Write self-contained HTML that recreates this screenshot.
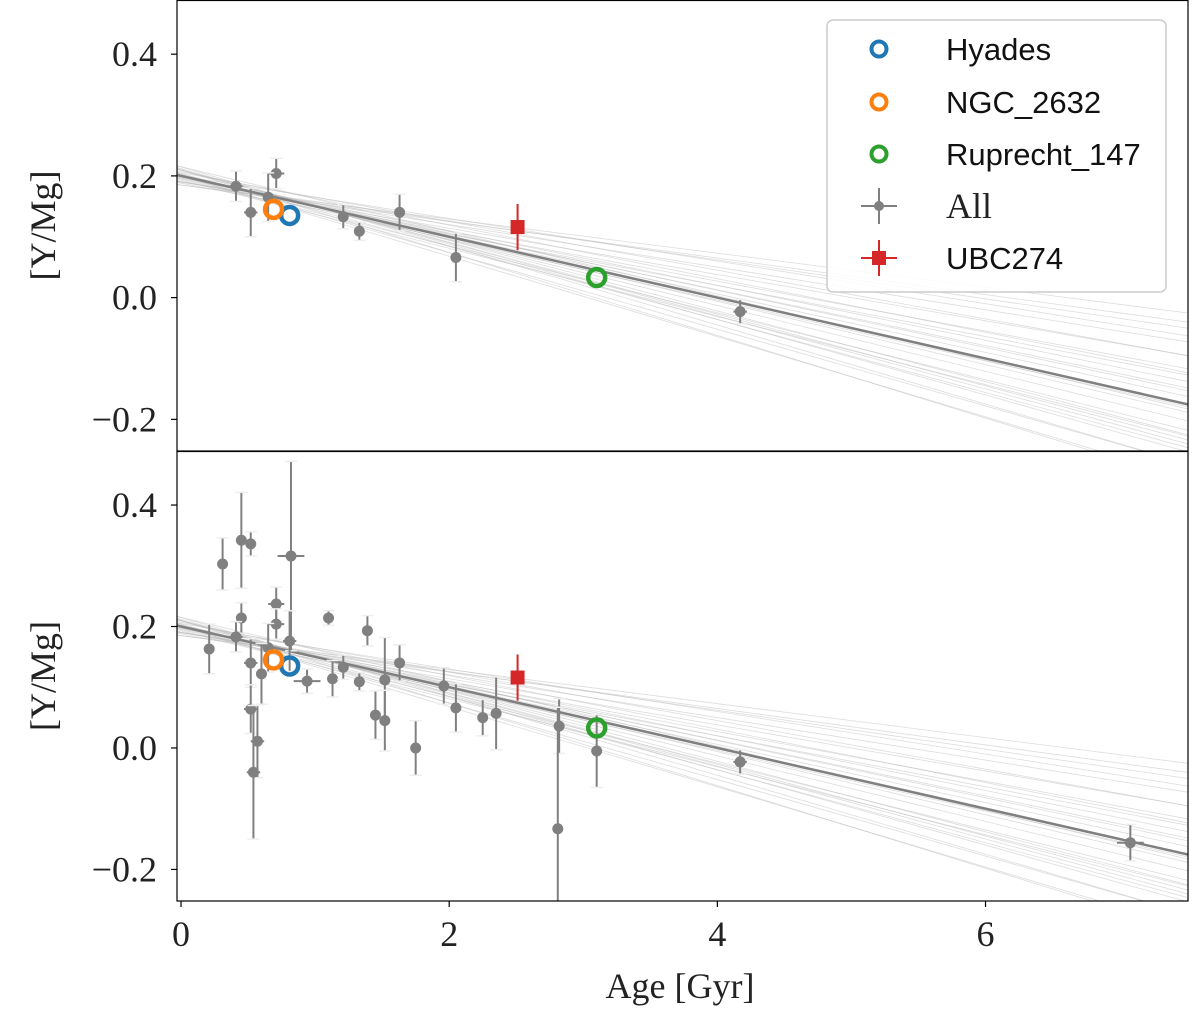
<!DOCTYPE html>
<html><head><meta charset="utf-8"><style>
html,body{margin:0;padding:0;background:#fff;}
svg{display:block;}
.tk{font-family:"Liberation Serif",serif;font-size:36px;fill:#222;}
.lg{font-family:"Liberation Sans",sans-serif;font-size:31px;fill:#111;}
</style></head><body>
<svg id="chart" width="1200" height="1014" viewBox="0 0 1200 1014" xmlns="http://www.w3.org/2000/svg"></svg>
<script>
// ---- data ----
const allAge = [0.21,0.31,0.45,0.52,0.82,0.71,0.45,0.71,0.41,0.81,0.65,1.10,1.39,1.63,0.52,0.60,0.94,1.13,1.21,1.33,1.52,1.45,1.52,1.75,0.52,0.57,0.54,1.96,2.05,2.25,2.35,2.82,2.81,3.10,4.17,7.08];
const allY   = [0.163,0.303,0.342,0.336,0.316,0.237,0.214,0.204,0.183,0.176,0.165,0.214,0.193,0.140,0.140,0.122,0.110,0.114,0.133,0.109,0.112,0.054,0.045,0.000,0.064,0.011,-0.040,0.102,0.066,0.050,0.057,0.036,-0.133,-0.005,-0.023,-0.156];
const allYerr= [0.041,0.043,0.079,0.020,0.156,0.028,0.025,0.025,0.025,0.050,0.040,0.012,0.025,0.030,0.040,0.050,0.020,0.030,0.020,0.015,0.070,0.040,0.050,0.045,0.040,0.060,0.110,0.030,0.040,0.030,0.060,0.045,0.200,0.060,0.020,0.030];
const allXerr= [0.03,0.03,0.03,0.03,0.10,0.06,0.03,0.06,0.05,0.05,0.03,0.03,0.03,0.03,0.05,0.03,0.10,0.03,0.03,0.03,0.03,0.03,0.03,0.03,0.05,0.05,0.05,0.03,0.03,0.03,0.03,0.03,0.03,0.03,0.05,0.10];
const topIdx = [8,14,7,10,18,19,13,28,34];
const clusterNames = ["Hyades","NGC_2632","Ruprecht_147"];
const clusterAge = [0.81,0.69,3.10];
const clusterY = [0.135,0.145,0.033];
const clusterColor = ["#1f77b4","#ff7f0e","#2ca02c"];
const ubcAge = [2.51], ubcY=[0.116], ubcYerr=[0.038], ubcXerr=[0.05];
const fitIntercept = 0.200, fitSlope = -0.050;
const sampInt = [0.19,0.21,0.20,0.195,0.205,0.185,0.215,0.20,0.19,0.21,0.198,0.202,0.188,0.212,0.20,0.193,0.207,0.196,0.204,0.20,0.19,0.21,0.2,0.185,0.215,0.197,0.203,0.191,0.209,0.2];
const sampSlope=[-0.035,-0.06,-0.045,-0.055,-0.04,-0.03,-0.065,-0.05,-0.038,-0.058,-0.048,-0.052,-0.042,-0.062,-0.035,-0.056,-0.044,-0.05,-0.06,-0.066,-0.032,-0.068,-0.047,-0.028,-0.053,-0.046,-0.054,-0.041,-0.059,-0.063];
const xTicks=[0,2,4,6], yTicks=[0.4,0.2,0.0,-0.2];
// ---- axes ----
const X0=177,X1=1188, xmin=-0.03,xmax=7.51;
const panels=[{top:0,bot:451,name:'top-panel'},{top:451,bot:901,name:'bottom-panel'}];
const ymin=-0.252,ymax=0.489;
const sx=v=>X0+(v-xmin)/(xmax-xmin)*(X1-X0);
const NS='http://www.w3.org/2000/svg', svg=document.getElementById('chart');
function mk(t,a,p){const e=document.createElementNS(NS,t);for(const k in a)e.setAttribute(k,a[k]);(p||svg).appendChild(e);return e;}
const defs=mk('defs',{});
panels.forEach((P,pi)=>{
  const cp=mk('clipPath',{id:'c'+pi},defs);mk('rect',{x:X0,y:P.top,width:X1-X0,height:P.bot-P.top},cp);
  const sy=v=>P.bot-(v-ymin)/(ymax-ymin)*(P.bot-P.top);
  const g=mk('g',{'clip-path':'url(#c'+pi+')'});
  
  
  sampInt.forEach((b,i)=>{const l=mk('line',{x1:sx(xmin),y1:sy(b+sampSlope[i]*xmin),x2:sx(xmax),y2:sy(b+sampSlope[i]*xmax),stroke:'#bbb','stroke-width':0.8,'stroke-opacity':0.5},g);
    
    });
  const fl=mk('line',{x1:sx(xmin),y1:sy(fitIntercept+fitSlope*xmin),x2:sx(xmax),y2:sy(fitIntercept+fitSlope*xmax),stroke:'#808080','stroke-width':2.5},g);
  
  
  const idx = pi===0? topIdx : allAge.map((_,i)=>i);
  idx.forEach(i=>{
    const gg=mk('g',{},g);
    
    
    const x=sx(allAge[i]),y=sy(allY[i]),ye=allYerr[i]*(P.bot-P.top)/(ymax-ymin),xe=(sx(allAge[i]+allXerr[i])-x);
    mk('line',{x1:x,y1:y-ye,x2:x,y2:y+ye,stroke:'#808080','stroke-width':2},gg);
    mk('line',{x1:x-xe,y1:y,x2:x+xe,y2:y,stroke:'#808080','stroke-width':2},gg);
    mk('line',{x1:x-6,y1:y-ye,x2:x+6,y2:y-ye,stroke:'#eee','stroke-width':1.5},gg);
    mk('line',{x1:x-6,y1:y+ye,x2:x+6,y2:y+ye,stroke:'#eee','stroke-width':1.5},gg);
    mk('circle',{cx:x,cy:y,r:5.5,fill:'#808080'},gg);
  });
  ubcAge.forEach((a,i)=>{
    const gg=mk('g',{},g);
    
    
    const x=sx(a),y=sy(ubcY[i]),ye=ubcYerr[i]*(P.bot-P.top)/(ymax-ymin),xe=sx(a+ubcXerr[i])-x;
    mk('line',{x1:x,y1:y-ye,x2:x,y2:y+ye,stroke:'#d62728','stroke-width':2},gg);
    mk('line',{x1:x-xe,y1:y,x2:x+xe,y2:y,stroke:'#d62728','stroke-width':2},gg);
    mk('rect',{x:x-7,y:y-7,width:14,height:14,fill:'#d62728'},gg);
  });
  clusterAge.forEach((a,i)=>{
    const c=mk('circle',{cx:sx(a),cy:sy(clusterY[i]),r:8.5,fill:'none',stroke:clusterColor[i],'stroke-width':4.5},g);
    
    
  });
  const fr=mk('rect',{x:X0,y:P.top+0.5,width:X1-X0,height:P.bot-P.top-0.5,fill:'none',stroke:'#000','stroke-width':1.2});
  
  
  yTicks.forEach(v=>{const y=sy(v);mk('line',{x1:X0-6,y1:y,x2:X0,y2:y,stroke:'#000','stroke-width':1.2});
    const t=mk('text',{x:X0-20,y:y+12,'text-anchor':'end',class:'tk'});
    
    
    t.textContent=(v<0?'\u2212':'')+Math.abs(v).toFixed(1);});
  const yl=mk('text',{x:0,y:0,class:'tk','text-anchor':'middle',transform:`translate(55,${(P.top+P.bot)/2}) rotate(-90)`});
  
  
  yl.textContent='[Y/Mg]';
});
xTicks.forEach(v=>{const x=sx(v);mk('line',{x1:x,y1:901,x2:x,y2:907,stroke:'#000','stroke-width':1.2});
  const t=mk('text',{x:x,y:946,'text-anchor':'middle',class:'tk'});
  
  
  t.textContent=v;});
const xl=mk('text',{x:680,y:998,'text-anchor':'middle',class:'tk'});


xl.textContent='Age [Gyr]';
// legend
const lg=mk('g',{});


mk('rect',{x:827,y:20,width:339,height:272,rx:6,fill:'#fff','fill-opacity':0.85,stroke:'#ccc','stroke-width':1.5},lg);
const ly=[49,102,154,206,258];
clusterNames.forEach((n,i)=>{
  const e=mk('g',{},lg);
  
  
  mk('circle',{cx:879,cy:ly[i],r:7.5,fill:'none',stroke:clusterColor[i],'stroke-width':4},e);
  const t=mk('text',{x:946,y:ly[i]+11,class:'lg'},e);t.textContent=n;
});
let e=mk('g',{},lg);


mk('line',{x1:879,y1:188,x2:879,y2:224,stroke:'#808080','stroke-width':2},e);
mk('line',{x1:861,y1:206,x2:897,y2:206,stroke:'#808080','stroke-width':2},e);
mk('circle',{cx:879,cy:206,r:5,fill:'#808080'},e);
let t=mk('text',{x:946,y:218,class:'tk'},e);t.textContent='All';
e=mk('g',{},lg);


mk('line',{x1:879,y1:240,x2:879,y2:276,stroke:'#d62728','stroke-width':2},e);
mk('line',{x1:861,y1:258,x2:897,y2:258,stroke:'#d62728','stroke-width':2},e);
mk('rect',{x:872,y:251,width:14,height:14,fill:'#d62728'},e);
t=mk('text',{x:946,y:269,class:'lg'},e);t.textContent='UBC274';
</script>
</body></html>
